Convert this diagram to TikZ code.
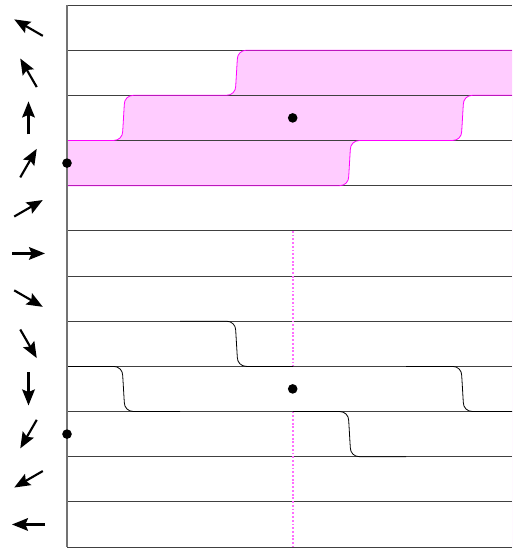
\documentclass[tikz,border=0pt]{standalone}
\usetikzlibrary{arrows.meta}
\definecolor{bandpink}{RGB}{255,204,255}
\definecolor{bandline}{RGB}{255,0,255}
\definecolor{cutpink}{RGB}{255,110,255}
\newcommand\riser[3]{% step at x=#1 from line #2 to line #3
  -- ({#1-10},#2) .. controls ({#1-4.5},#2) and ({#1-0.8},{#2+0.09*(#3-#2)})
  .. ({#1-0.8},{#2+0.2*(#3-#2)}) -- ({#1+0.8},{#3-0.2*(#3-#2)})
  .. controls ({#1+0.8},{#3-0.09*(#3-#2)}) and ({#1+4.5},#3) .. ({#1+10},#3)}
\begin{document}
\begin{tikzpicture}[x=0.75pt,y=-0.75pt,
    grid/.style={draw=black!75,line width=0.6pt},
    spin/.style={-{Stealth[length=12pt,width=9.5pt,inset=2pt]},line width=1.6pt},
    band/.style={fill=bandpink,even odd rule},
    edge/.style={draw=bandline,line width=0.6pt},
    wave/.style={draw=black,line width=0.6pt},
    cut/.style={draw=cutpink,line width=1.3pt,dash pattern=on 1.4pt off 1.4pt},
    site/.style={circle,fill=black,inner sep=0pt,minimum size=7.2pt}]
  \useasboundingbox (0,0) rectangle (512,548);
  \path[band] (67,140.5) \riser{123.5}{140.5}{95.3} \riser{236.5}{95.3}{50.2}
      -- (512,50.2) -- (512,547) -- (67,547) -- cycle
    (67,185.7) \riser{349.5}{185.7}{140.5} \riser{462.5}{140.5}{95.3}
      -- (512,95.3) -- (512,547) -- (67,547) -- cycle;
  \foreach \i in {0,...,12}
    \draw[grid] (67,{5+45.17*\i}) -- (512,{5+45.17*\i});
  \draw[edge] (67,140.5) \riser{123.5}{140.5}{95.3} \riser{236.5}{95.3}{50.2} -- (512,50.2);
  \draw[edge] (67,185.7) \riser{349.5}{185.7}{140.5} \riser{462.5}{140.5}{95.3} -- (512,95.3);
  \draw[wave] (180,321.2) \riser{236.5}{321.2}{366.4} -- (293,366.4);
  \draw[wave] (67,366.4) \riser{123.5}{366.4}{411.5} -- (180,411.5);
  \draw[wave] (293,411.5) \riser{349.5}{411.5}{456.7} -- (406,456.7);
  \draw[wave] (406,366.4) \riser{462.5}{366.4}{411.5} -- (512,411.5);
  \draw[cut] (292.7,230.9) -- (292.7,366.4);
  \draw[cut] (292.7,411.5) -- (292.7,547);
  \draw[draw=black!55,line width=0.8pt] (67,5) -- (67,547);
  \foreach \i [evaluate=\i as \b using 30*\i-150,
               evaluate=\i as \y using 27.6+45.17*\i] in {0,...,11}
    \draw[spin] (28.5,\y) ++(\b+180:16.5) -- ++(\b:33);
  \node[site] (up) at (292.7,117.9) {};
  \node[site] (upedge) at (67,163.1) {};
  \node[site] (down) at (292.7,388.9) {};
  \node[site] (downedge) at (67,434.1) {};
\end{tikzpicture}
\end{document}
